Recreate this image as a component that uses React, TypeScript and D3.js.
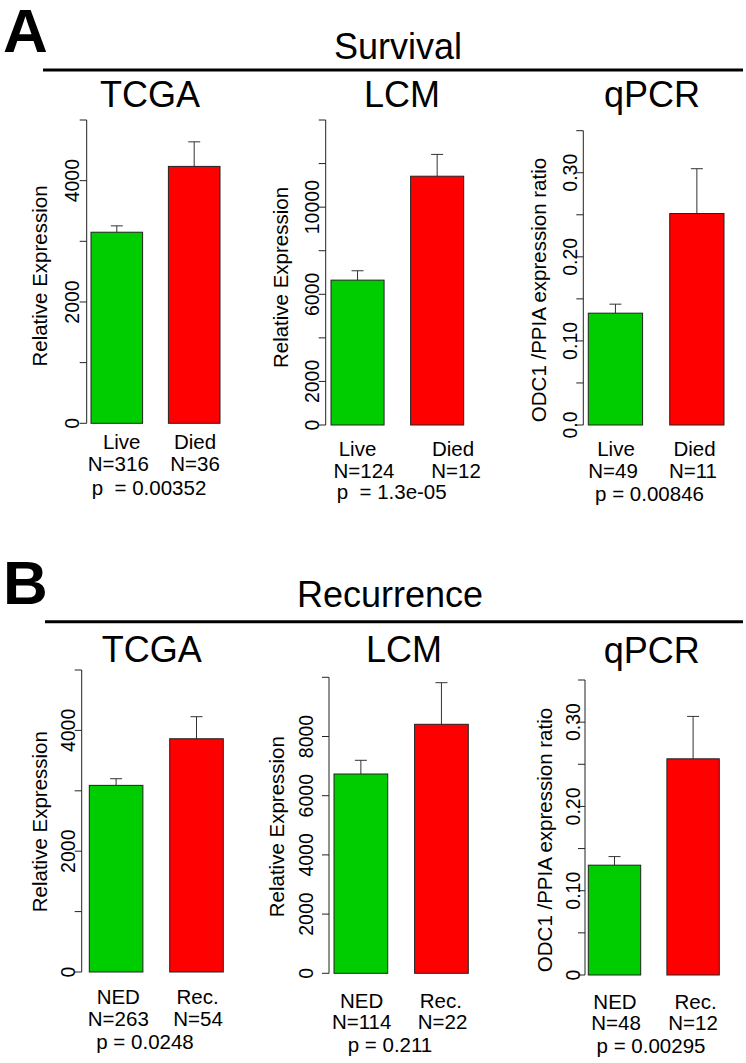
import React from "react";
import * as d3 from "d3";

// ---------- data ----------
const survivalGroups = ["Live", "Died"];
const recurrenceGroups = ["NED", "Rec."];

const survTCGAMean = [3150, 4235];
const survTCGAErrTop = [3255, 4640];
const survLCMMean = [6650, 11420];
const survLCMErrTop = [7080, 12420];
const survQPCRMean = [0.133, 0.2515];
const survQPCRErrTop = [0.1437, 0.3048];

const recTCGAMean = [3090, 3862];
const recTCGAErrTop = [3200, 4227];
const recLCMMean = [6733, 8412];
const recLCMErrTop = [7196, 9818];
const recQPCRMean = [0.1303, 0.2565];
const recQPCRErrTop = [0.1405, 0.3068];

const survTCGAN = ["N=316", "N=36"];
const survLCMN = ["N=124", "N=12"];
const survQPCRN = ["N=49", "N=11"];
const recTCGAN = ["N=263", "N=54"];
const recLCMN = ["N=114", "N=22"];
const recQPCRN = ["N=48", "N=12"];

const survP = ["p  = 0.00352", "p  = 1.3e-05", "p = 0.00846"];
const recP = ["p = 0.0248", "p = 0.211", "p = 0.00295"];

const tcgaTicks = [0, 1000, 2000, 3000, 4000, 5000];
const tcgaTickLabels = [0, 2000, 4000];
const survLCMTicks = [0, 2000, 4000, 6000, 8000, 10000, 12000, 14000];
const survLCMTickLabels = [0, 2000, 6000, 10000];
const recLCMTicks = [0, 2000, 4000, 6000, 8000, 10000];
const recLCMTickLabels = [0, 2000, 4000, 6000, 8000];
const qpcrTicks = [0, 0.05, 0.1, 0.15, 0.2, 0.25, 0.3, 0.35];
const qpcrTickLabels = [0, 0.1, 0.2, 0.3];

const sectionTitles = ["Survival", "Recurrence"];
const panelTitles = ["TCGA", "LCM", "qPCR"];
const yTitles = ["Relative Expression", "Relative Expression", "ODC1 /PPIA expression ratio"];

// ---------- layout ----------
const FONT = "'Liberation Sans', Arial, Helvetica, sans-serif";
const GREEN = "#00CD00";
const RED = "#FF0000";
const LABEL_SIZE = 20.5;

type Panel = {
  title: string;
  titleX: number;
  titleY: number;
  groups: string[];
  mean: number[];
  errTop: number[];
  nLabels: string[];
  p: string;
  ticks: number[];
  tickLabels: number[];
  fmt: (v: number) => string;
  yTitle: string;
  axisX: number;
  barL: number;
  barR: number;
  y0: number;
  yTop: number;
  ymax: number;
  tickLabelX: number;
  yTitleX: number;
  yTitleY: number;
  catX: number[];
  nX: number[];
  pX: number;
  catY: number;
  nY: number;
  pY: number;
};

const intFmt = (v: number) => String(v);
const qFmtA = (v: number) => (v === 0 ? "0.0" : d3.format(".2f")(v));
const qFmtB = (v: number) => (v === 0 ? "0" : d3.format(".2f")(v));

const panels: Panel[] = [
  {
    title: panelTitles[0], titleX: 150, titleY: 107,
    groups: survivalGroups, mean: survTCGAMean, errTop: survTCGAErrTop, nLabels: survTCGAN, p: survP[0],
    ticks: tcgaTicks, tickLabels: tcgaTickLabels, fmt: intFmt, yTitle: yTitles[0],
    axisX: 86.7, barL: 91, barR: 220, y0: 423.3, yTop: 120, ymax: 5000,
    tickLabelX: 78.5, yTitleX: 46.5, yTitleY: 276,
    catX: [121.7, 195], nX: [118.3, 195], pX: 149, catY: 449, nY: 471, pY: 495,
  },
  {
    title: panelTitles[1], titleX: 402, titleY: 107,
    groups: survivalGroups, mean: survLCMMean, errTop: survLCMErrTop, nLabels: survLCMN, p: survP[1],
    ticks: survLCMTicks, tickLabels: survLCMTickLabels, fmt: intFmt, yTitle: yTitles[1],
    axisX: 325.7, barL: 331, barR: 463.7, y0: 425, yTop: 120, ymax: 14000,
    tickLabelX: 319, yTitleX: 287.5, yTitleY: 277.5,
    catX: [357.5, 453], nX: [364, 456], pX: 391.7, catY: 456, nY: 478, pY: 499,
  },
  {
    title: panelTitles[2], titleX: 652, titleY: 107,
    groups: survivalGroups, mean: survQPCRMean, errTop: survQPCRErrTop, nLabels: survQPCRN, p: survP[2],
    ticks: qpcrTicks, tickLabels: qpcrTickLabels, fmt: qFmtA, yTitle: yTitles[2],
    axisX: 583.3, barL: 588.3, barR: 724, y0: 425, yTop: 130.7, ymax: 0.35,
    tickLabelX: 576.7, yTitleX: 545.5, yTitleY: 290,
    catX: [616, 694.5], nX: [613, 693], pX: 649.5, catY: 456, nY: 478, pY: 501,
  },
  {
    title: panelTitles[0], titleX: 151.7, titleY: 661.7,
    groups: recurrenceGroups, mean: recTCGAMean, errTop: recTCGAErrTop, nLabels: recTCGAN, p: recP[0],
    ticks: tcgaTicks, tickLabels: tcgaTickLabels, fmt: intFmt, yTitle: yTitles[0],
    axisX: 81.7, barL: 89.3, barR: 223.3, y0: 972, yTop: 670, ymax: 5000,
    tickLabelX: 75, yTitleX: 47, yTitleY: 821.7,
    catX: [118.3, 197.5], nX: [118.3, 198], pX: 145, catY: 1004, nY: 1026, pY: 1049,
  },
  {
    title: panelTitles[1], titleX: 404, titleY: 661.7,
    groups: recurrenceGroups, mean: recLCMMean, errTop: recLCMErrTop, nLabels: recLCMN, p: recP[1],
    ticks: recLCMTicks, tickLabels: recLCMTickLabels, fmt: intFmt, yTitle: yTitles[1],
    axisX: 329, barL: 334, barR: 468.3, y0: 973.3, yTop: 677.3, ymax: 10000,
    tickLabelX: 313, yTitleX: 283.5, yTitleY: 826.7,
    catX: [361.7, 440.8], nX: [361.7, 442.5], pX: 390, catY: 1008, nY: 1029, pY: 1052,
  },
  {
    title: panelTitles[2], titleX: 651.7, titleY: 663,
    groups: recurrenceGroups, mean: recQPCRMean, errTop: recQPCRErrTop, nLabels: recQPCRN, p: recP[2],
    ticks: qpcrTicks, tickLabels: qpcrTickLabels, fmt: qFmtB, yTitle: yTitles[2],
    axisX: 585, barL: 588.3, barR: 719.3, y0: 975, yTop: 680, ymax: 0.35,
    tickLabelX: 580, yTitleX: 552, yTitleY: 840,
    catX: [615, 695.5], nX: [616, 693], pX: 651, catY: 1009, nY: 1030, pY: 1053,
  },
];

const sections = [
  { letter: "A", letterY: 51.7, title: sectionTitles[0], titleX: 398, titleY: 59, lineY: 70, lineX1: 43, lineX2: 743 },
  { letter: "B", letterY: 603.7, title: sectionTitles[1], titleX: 390, titleY: 606.5, lineY: 621.7, lineX1: 45, lineX2: 743 },
];

function BarPanel({ p }: { p: Panel }) {
  const y = d3.scaleLinear().domain([0, p.ymax]).range([p.y0, p.yTop]);
  const x = d3.scaleBand<string>().domain(p.groups).range([p.barL, p.barR]).paddingInner(1 / 3).paddingOuter(0);
  const colors = [GREEN, RED];
  const cap = 6;
  return (
    <g>
      <text x={p.titleX} y={p.titleY} textAnchor="middle" fontSize={36} fontFamily={FONT} fill="#000">
        {p.title}
      </text>
      {/* axis */}
      <line x1={p.axisX} x2={p.axisX} y1={y(0)} y2={y(p.ymax)} stroke="#222" strokeWidth={1} />
      {p.ticks.map((t) => (
        <line key={t} x1={p.axisX - 7} x2={p.axisX} y1={y(t)} y2={y(t)} stroke="#222" strokeWidth={1} />
      ))}
      {p.tickLabels.map((t) => (
        <text key={t} transform={`translate(${p.tickLabelX},${y(t)}) rotate(-90)`} textAnchor="middle"
          fontSize={19.5} fontFamily={FONT} fill="#000">
          {p.fmt(t)}
        </text>
      ))}
      <text transform={`translate(${p.yTitleX},${p.yTitleY}) rotate(-90)`} textAnchor="middle"
        fontSize={20.5} fontFamily={FONT} fill="#000">
        {p.yTitle}
      </text>
      {/* bars */}
      {p.groups.map((g, i) => {
        const bx = x(g)!;
        const bw = x.bandwidth();
        const cx = bx + bw / 2;
        return (
          <g key={g}>
            <line x1={cx} x2={cx} y1={y(p.mean[i])} y2={y(p.errTop[i])} stroke="#333" strokeWidth={1} />
            <line x1={cx - cap} x2={cx + cap} y1={y(p.errTop[i])} y2={y(p.errTop[i])} stroke="#333" strokeWidth={1} />
            <rect x={bx} y={y(p.mean[i])} width={bw} height={y(0) - y(p.mean[i])} fill={colors[i]}
              stroke="#222" strokeWidth={1} />
          </g>
        );
      })}
      {p.groups.map((g, i) => (
        <text key={"c" + g} x={p.catX[i]} y={p.catY} textAnchor="middle" fontSize={LABEL_SIZE} fontFamily={FONT}>
          {g}
        </text>
      ))}
      {p.nLabels.map((n, i) => (
        <text key={"n" + i} x={p.nX[i]} y={p.nY} textAnchor="middle" fontSize={LABEL_SIZE} fontFamily={FONT}>
          {n}
        </text>
      ))}
      <text x={p.pX} y={p.pY} textAnchor="middle" fontSize={LABEL_SIZE} fontFamily={FONT} style={{ whiteSpace: "pre" }}>
        {p.p}
      </text>
    </g>
  );
}

export default function App() {
  return (
    <svg width={746} height={1063} viewBox="0 0 746 1063"
      style={{ position: "absolute", left: 0, top: 0, background: "#fff" }}>
      <rect width={746} height={1063} fill="#fff" />
      {sections.map((s) => (
        <g key={s.letter}>
          <text x={3} y={s.letterY} fontSize={62} fontWeight="bold" fontFamily={FONT}>{s.letter}</text>
          <text x={s.titleX} y={s.titleY} textAnchor="middle" fontSize={36} fontFamily={FONT}>{s.title}</text>
          <line x1={s.lineX1} x2={s.lineX2} y1={s.lineY} y2={s.lineY} stroke="#000" strokeWidth={3} />
        </g>
      ))}
      {panels.map((p, i) => (
        <BarPanel key={i} p={p} />
      ))}
    </svg>
  );
}
